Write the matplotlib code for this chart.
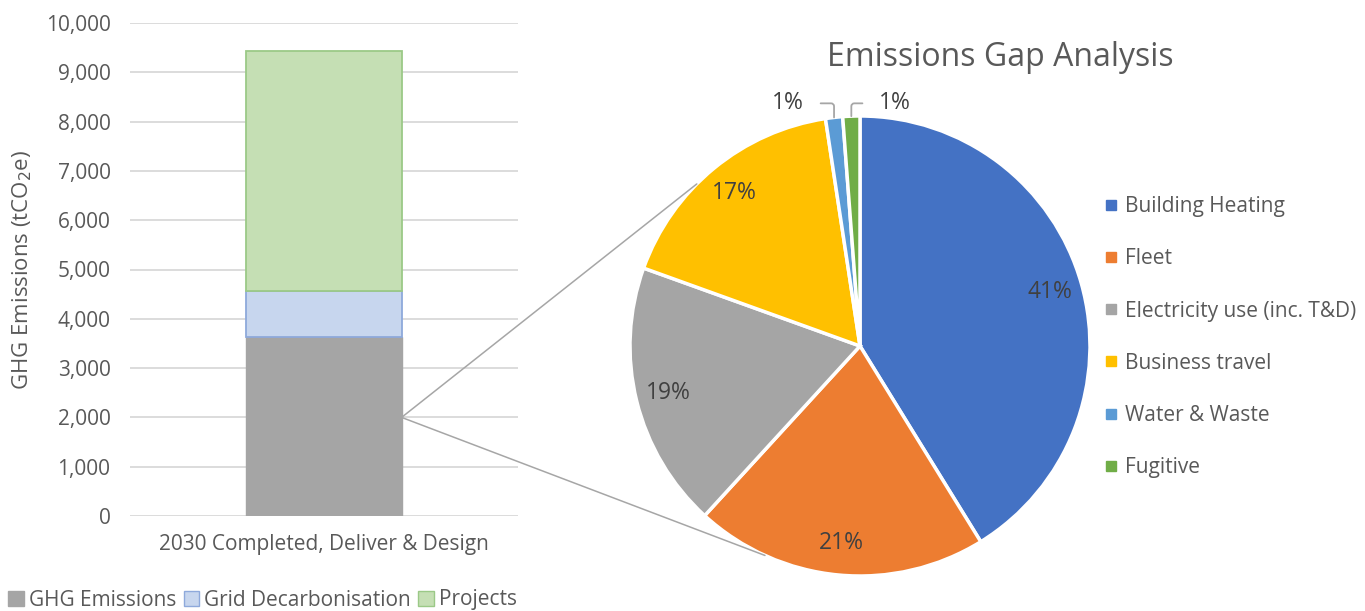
import numpy as np
import matplotlib.pyplot as plt
from matplotlib.patches import ConnectionPatch, Patch
from matplotlib.lines import Line2D

plt.rcParams['font.family'] = ['Open Sans', 'DejaVu Sans']

# stacked bar data
bar_category = ["2030 Completed, Deliver & Design"]
bar_series = ["GHG Emissions", "Grid Decarbonisation", "Projects"]
ghg_emissions = [3630]
grid_decarb = [940]
projects = [4860]

# pie data (share of remaining emissions, %)
pie_labels = ["Building Heating", "Fleet", "Electricity use (inc. T&D)",
              "Business travel", "Water & Waste", "Fugitive"]
pie_values = [41.2, 20.6, 18.7, 17.1, 1.2, 1.2]

TXT = '#595959'
pie_colors = ['#4472C4', '#ED7D31', '#A5A5A5', '#FFC000', '#5B9BD5', '#70AD47']


def main():
    W, H = 1365, 611
    fig = plt.figure(figsize=(W / 100, H / 100), dpi=100)

    # ---- bar chart ----
    ax = fig.add_axes([130 / W, (H - 516) / H, 388 / W, 493 / H])
    x = np.arange(len(bar_category))
    ax.bar(x, ghg_emissions, width=0.8, color='#A5A5A5', edgecolor='#A5A5A5',
           linewidth=1, zorder=2)
    ax.bar(x, grid_decarb, bottom=ghg_emissions, width=0.8, color='#C7D6EE',
           edgecolor='#8EA9DB', linewidth=1.3, zorder=2)
    bottom2 = np.array(ghg_emissions) + np.array(grid_decarb)
    ax.bar(x, projects, bottom=bottom2, width=0.8, color='#C5DFB4',
           edgecolor='#9BC987', linewidth=1.3, zorder=2)
    ax.set_xlim(-1.0, 1.0)
    ax.set_ylim(0, 10000)
    ax.set_yticks(np.arange(0, 10001, 1000))
    ax.set_yticklabels([f"{v:,}" for v in range(0, 10001, 1000)])
    ax.set_xticks(x)
    ax.set_xticklabels(bar_category, fontsize=15)
    ax.tick_params(length=0, labelsize=15, labelcolor=TXT)
    ax.tick_params(axis='x', labelsize=15)
    ax.tick_params(axis='y', pad=14)
    ax.tick_params(axis='x', pad=13)
    ax.grid(axis='y', color='#D9D9D9', linewidth=1.3, zorder=0)
    for s in ax.spines.values():
        s.set_visible(False)
    fig.text(22 / W, 1 - 270 / H, "GHG Emissions (tCO$_2$e)", rotation=90,
             ha='center', va='center', fontsize=16, color=TXT)

    bar_handles = [Patch(facecolor='#A5A5A5', edgecolor='#A5A5A5'),
                   Patch(facecolor='#C7D6EE', edgecolor='#8EA9DB'),
                   Patch(facecolor='#C5DFB4', edgecolor='#9BC987')]
    fig.legend(bar_handles, bar_series, loc='center left',
               bbox_to_anchor=(8 / W, 1 - 600 / H), ncol=3, frameon=False,
               fontsize=15, labelcolor=TXT, handlelength=0.75,
               handleheight=0.75, handletextpad=0.25, columnspacing=0.35,
               borderpad=0, borderaxespad=0)

    # ---- pie chart ----
    cx, cy, r = 860, 346, 230
    lim = 1.15
    side = 2 * lim * r
    pax = fig.add_axes([(cx - side / 2) / W, (H - cy - side / 2) / H,
                        side / W, side / H])

    wedges, _ = pax.pie(pie_values, colors=pie_colors, startangle=90,
                        counterclock=False, radius=1,
                        wedgeprops=dict(edgecolor='white', linewidth=2.5))
    pax.set_xlim(-lim, lim)
    pax.set_ylim(-lim, lim)
    pax.set_aspect('equal')
    pax.axis('off')

    total = sum(pie_values)
    cum = 0
    for i, v in enumerate(pie_values):
        mid = 90 - 360 * (cum + v / 2) / total
        cum += v
        a = np.deg2rad(mid)
        txt = f"{v:.0f}%"
        if v >= 5:
            pax.text(0.86 * np.cos(a), 0.86 * np.sin(a), txt, ha='center',
                     va='center', fontsize=16.5, color='#404040')
        else:
            ex, ey = np.cos(a), np.sin(a)
            side_dx = -0.2 if i == 4 else 0.19
            lx, ly = ex + side_dx, 1.055
            pax.annotate(txt, xy=(ex, ey), xytext=(lx, ly), ha='center',
                         va='center', fontsize=16.5, color='#404040',
                         arrowprops=dict(arrowstyle='-', color='#A6A6A6',
                                         lw=1.3, shrinkA=10, shrinkB=0,
                                         connectionstyle='angle,angleA=0,angleB=90,rad=3'))

    fig.text(1000 / W, 1 - 58 / H, "Emissions Gap Analysis", ha='center',
             va='center', fontsize=23, color=TXT)

    # lines linking the GHG segment to the pie
    for ang in (135.2, -114.4):
        a = np.deg2rad(ang)
        con = ConnectionPatch(xyA=(0.4, 2000), coordsA=ax.transData,
                              xyB=(np.cos(a), np.sin(a)), coordsB=pax.transData,
                              color='#A6A6A6', linewidth=1.1)
        fig.add_artist(con)

    pie_handles = [Line2D([], [], marker='s', linestyle='none', markersize=7,
                          color=c) for c in pie_colors]
    fig.legend(pie_handles, pie_labels, loc='upper left',
               bbox_to_anchor=(1105 / W, 1 - 196 / H), frameon=False,
               fontsize=15, labelcolor=TXT, handlelength=0.55,
               handletextpad=0.4, labelspacing=1.5, borderpad=0,
               borderaxespad=0)

    fig.savefig('out.png', dpi=100)


if __name__ == "__main__":
    main()
